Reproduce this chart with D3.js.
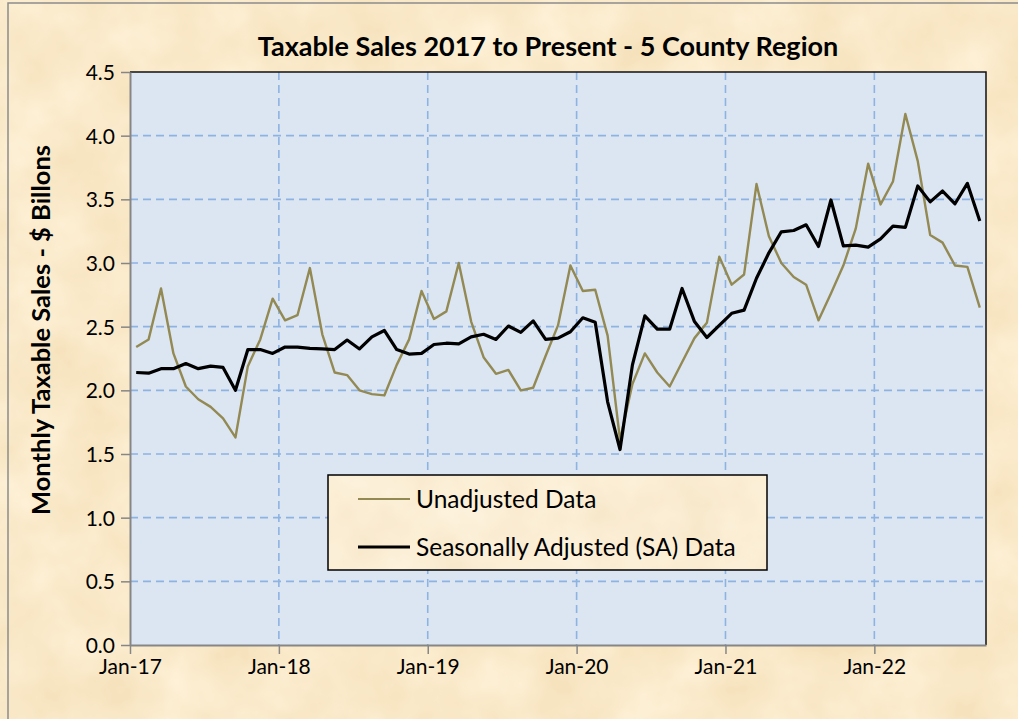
<!DOCTYPE html>
<html>
<head>
<meta charset="utf-8">
<script src="https://cdn.jsdelivr.net/npm/d3@7"></script>
<style>
	html, body { margin: 0; padding: 0; background: #fae8c4; }
	svg { display: block; }
	text { font-family: Lato, "Open Sans", sans-serif; }
</style>
</head>
<body>
<div id="chart"></div>
<script>
// monthly values, Jan-17 .. Sep-22, $ billions
var unadjusted = [
	2.34, 2.40, 2.80, 2.29, 2.03, 1.93, 1.87, 1.78, 1.63, 2.19, 2.40, 2.72,
	2.55, 2.59, 2.96, 2.44, 2.14, 2.12, 2.00, 1.97, 1.96, 2.20, 2.40, 2.78,
	2.56, 2.62, 3.00, 2.54, 2.26, 2.13, 2.16, 2.00, 2.02, 2.27, 2.51, 2.98,
	2.78, 2.79, 2.43, 1.61, 2.05, 2.29, 2.14, 2.03, 2.22, 2.41, 2.53, 3.05,
	2.83, 2.91, 3.62, 3.21, 3.00, 2.89, 2.83, 2.55, 2.76, 2.98, 3.27, 3.78,
	3.46, 3.64, 4.17, 3.80, 3.22, 3.16, 2.98, 2.97, 2.65
];
var seasonal = [
	2.14, 2.135, 2.17, 2.17, 2.21, 2.17, 2.19, 2.18, 2.00, 2.32, 2.32, 2.29,
	2.34, 2.34, 2.33, 2.325, 2.32, 2.395, 2.325, 2.42, 2.47, 2.32, 2.285, 2.29,
	2.36, 2.37, 2.365, 2.42, 2.44, 2.40, 2.505, 2.455, 2.545, 2.40, 2.41, 2.46,
	2.57, 2.535, 1.91, 1.535, 2.20, 2.585, 2.48, 2.48, 2.80, 2.54, 2.415, 2.51,
	2.605, 2.63, 2.88, 3.08, 3.245, 3.255, 3.30, 3.13, 3.495, 3.135, 3.14, 3.125,
	3.19, 3.29, 3.28, 3.605, 3.48, 3.565, 3.465, 3.625, 3.33
];
var tickMonths = [0, 12, 24, 36, 48, 60];
var tickLabels = ["Jan-17", "Jan-18", "Jan-19", "Jan-20", "Jan-21", "Jan-22"];
var yTicks = [0, 0.5, 1, 1.5, 2, 2.5, 3, 3.5, 4, 4.5];
var seriesNames = ["Unadjusted Data", "Seasonally Adjusted (SA) Data"];

var W = 1018, H = 719;
var plot = {left: 130, right: 986, top: 72, bottom: 645};
var olive = "#938953",
		gridBlue = "#8db3e2";

var svg = d3.select("#chart").append("svg")
	.attr("width", W)
	.attr("height", H);

// parchment texture
var defs = svg.append("defs");
var filt = defs.append("filter")
	.attr("id", "parch")
	.attr("x", 0).attr("y", 0).attr("width", "100%").attr("height", "100%")
	.attr("color-interpolation-filters", "sRGB");
filt.append("feTurbulence")
	.attr("type", "fractalNoise")
	.attr("baseFrequency", "0.015")
	.attr("numOctaves", 4)
	.attr("seed", 7);
filt.append("feColorMatrix")
	.attr("type", "matrix")
	.attr("values",
		"0.05 0 0 0 0.955 " +
		"0.09 0 0 0 0.87 " +
		"0.16 0 0 0 0.71 " +
		"0 0 0 0 1");

svg.append("rect")
	.attr("width", W).attr("height", H)
	.attr("filter", "url(#parch)");

// outer chart frame
svg.append("rect")
	.attr("x", 8).attr("y", 3)
	.attr("width", W + 20).attr("height", H + 20)
	.attr("fill", "none")
	.attr("stroke", "#8c8c8c")
	.attr("stroke-width", 1.5);

var x = d3.scaleLinear().domain([0, unadjusted.length]).range([plot.left, plot.right]),
		y = d3.scaleLinear().domain([0, 4.5]).range([plot.bottom, plot.top]);

svg.append("rect")
	.attr("x", plot.left).attr("y", plot.top)
	.attr("width", plot.right - plot.left)
	.attr("height", plot.bottom - plot.top)
	.attr("fill", "#dce6f2");

// gridlines
var grid = svg.append("g").attr("class", "grid");
grid.selectAll("line.h")
	.data(yTicks.filter(function(d) { return d > 0 && d < 4.5; }))
	.enter().append("line")
		.attr("class", "h")
		.attr("x1", plot.left).attr("x2", plot.right)
		.attr("y1", function(d) { return y(d); })
		.attr("y2", function(d) { return y(d); });
grid.selectAll("line.v")
	.data(tickMonths.slice(1))
	.enter().append("line")
		.attr("class", "v")
		.attr("y1", plot.top).attr("y2", plot.bottom)
		.attr("x1", function(d) { return x(d); })
		.attr("x2", function(d) { return x(d); });
grid.selectAll("line")
	.attr("stroke", gridBlue)
	.attr("stroke-width", 1.6)
	.attr("stroke-dasharray", "8,5");

// frame top/right
svg.append("path")
	.attr("d", "M" + plot.left + "," + plot.top + "H" + plot.right + "V" + plot.bottom)
	.attr("fill", "none")
	.attr("stroke", "#111")
	.attr("stroke-width", 1.5);

// axes
var xAxis = d3.axisBottom(x)
	.tickValues(tickMonths)
	.tickFormat(function(d, i) { return tickLabels[i]; })
	.tickSizeInner(9).tickSizeOuter(0).tickPadding(5);
var yAxis = d3.axisLeft(y)
	.tickValues(yTicks)
	.tickFormat(d3.format(".1f"))
	.tickSizeInner(9).tickSizeOuter(0).tickPadding(6);

var gx = svg.append("g")
	.attr("transform", "translate(0," + plot.bottom + ")")
	.call(xAxis);
var gy = svg.append("g")
	.attr("transform", "translate(" + plot.left + ",0)")
	.call(yAxis);

[gx, gy].forEach(function(g) {
	g.select(".domain").attr("stroke", "#868686").attr("stroke-width", 2);
	g.selectAll(".tick line").attr("stroke", "#868686").attr("stroke-width", 1.5);
	g.selectAll(".tick text")
		.attr("fill", "#000")
		.style("font-size", "21px")
		.style("font-family", "Lato, sans-serif");
});
gy.selectAll(".tick text").attr("dy", "0.35em");

// series
var line = d3.line()
	.x(function(d, i) { return x(i + 0.5); })
	.y(function(d) { return y(d); });

svg.append("path")
	.datum(unadjusted)
	.attr("d", line)
	.attr("fill", "none")
	.attr("stroke", olive)
	.attr("stroke-width", 2.4)
	.attr("stroke-linejoin", "round");

svg.append("path")
	.datum(seasonal)
	.attr("d", line)
	.attr("fill", "none")
	.attr("stroke", "#000")
	.attr("stroke-width", 3.2)
	.attr("stroke-linejoin", "round");

// title
svg.append("text")
	.attr("x", 548).attr("y", 56)
	.attr("text-anchor", "middle")
	.style("font-size", "27px")
	.style("font-weight", "bold")
	.text("Taxable Sales 2017 to Present - 5 County Region");

svg.append("text")
	.attr("transform", "translate(50,330) rotate(-90)")
	.attr("text-anchor", "middle")
	.style("font-size", "25.5px")
	.style("font-weight", "bold")
	.text("Monthly Taxable Sales - $ Billons");

// legend
var legend = svg.append("g").attr("transform", "translate(328,475)");
defs.append("clipPath").attr("id", "legclip")
	.append("rect").attr("width", 439).attr("height", 95);
legend.append("rect")
	.attr("width", 439).attr("height", 95)
	.attr("filter", "url(#parch)")
	.attr("clip-path", "url(#legclip)");
legend.append("rect")
	.attr("width", 439).attr("height", 95)
	.attr("fill", "#fff")
	.attr("fill-opacity", 0.2)
	.attr("stroke", "#000")
	.attr("stroke-width", 1.5);

var items = legend.selectAll("g.item")
	.data(seriesNames)
	.enter().append("g")
		.attr("class", "item")
		.attr("transform", function(d, i) { return "translate(0," + (24 + i * 48) + ")"; });
items.append("line")
	.attr("x1", 30).attr("x2", 82)
	.attr("stroke", function(d, i) { return i ? "#000" : olive; })
	.attr("stroke-width", function(d, i) { return i ? 3 : 2; });
items.append("text")
	.attr("x", 88).attr("dy", "0.35em")
	.style("font-size", "24.5px")
	.text(function(d) { return d; });
</script>
</body>
</html>
